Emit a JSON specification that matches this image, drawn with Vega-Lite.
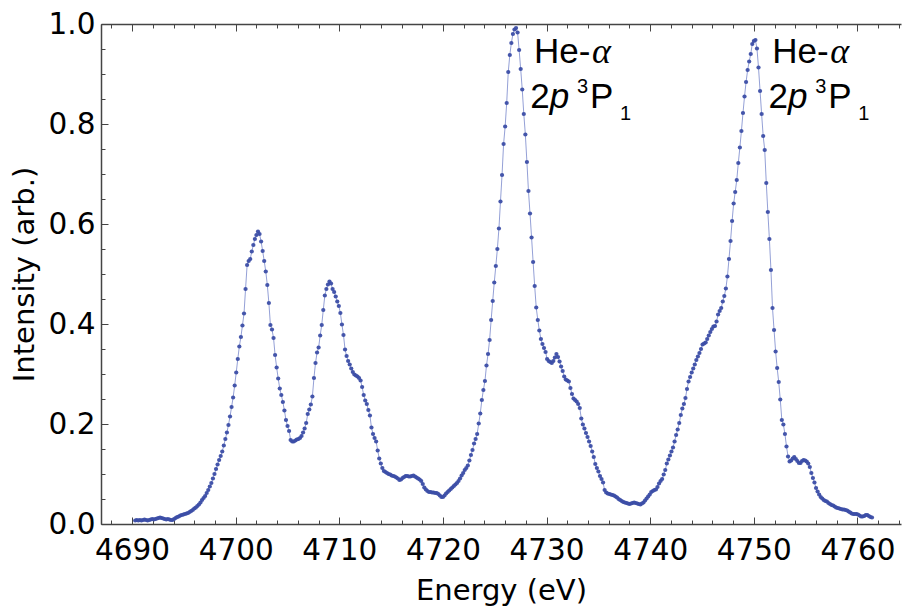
{
"$schema":"https://vega.github.io/schema/vega-lite/v6.json",
"width":800,"height":500,
"autosize":{"type":"none"},
"padding":{"left":101,"top":24,"right":1,"bottom":84},
"background":"white",
"config":{"view":{"stroke":null}},
"datasets":{
"ann":[{"x":4728.78,"y":0.9214},{"x":4751.78,"y":0.9214}],
"spec":[
{"e":4690.3,"i":0.007},{"e":4690.45,"i":0.008},{"e":4690.6,"i":0.007},{"e":4690.75,"i":0.008},{"e":4690.9,"i":0.007},{"e":4691.05,"i":0.008},{"e":4691.2,"i":0.009},{"e":4691.35,"i":0.008},{"e":4691.5,"i":0.007},{"e":4691.65,"i":0.008},{"e":4691.8,"i":0.009},{"e":4691.95,"i":0.01},{"e":4692.1,"i":0.009},{"e":4692.25,"i":0.01},{"e":4692.4,"i":0.011},{"e":4692.55,"i":0.012},{"e":4692.7,"i":0.013},{"e":4692.85,"i":0.012},{"e":4693.0,"i":0.011},{"e":4693.15,"i":0.01},{"e":4693.3,"i":0.009},{"e":4693.45,"i":0.01},{"e":4693.6,"i":0.009},{"e":4693.75,"i":0.008},{"e":4693.9,"i":0.008},{"e":4694.05,"i":0.01},{"e":4694.2,"i":0.012},{"e":4694.35,"i":0.014},{"e":4694.5,"i":0.015},{"e":4694.65,"i":0.017},{"e":4694.8,"i":0.018},{"e":4694.95,"i":0.019},{"e":4695.1,"i":0.02},{"e":4695.25,"i":0.021},{"e":4695.4,"i":0.022},{"e":4695.55,"i":0.024},{"e":4695.7,"i":0.026},{"e":4695.85,"i":0.028},{"e":4696.0,"i":0.031},{"e":4696.15,"i":0.033},{"e":4696.3,"i":0.036},{"e":4696.45,"i":0.039},{"e":4696.6,"i":0.043},{"e":4696.75,"i":0.048},{"e":4696.9,"i":0.052},{"e":4697.05,"i":0.056},{"e":4697.2,"i":0.062},{"e":4697.35,"i":0.068},{"e":4697.5,"i":0.075},{"e":4697.65,"i":0.082},{"e":4697.8,"i":0.091},{"e":4697.95,"i":0.1},{"e":4698.1,"i":0.11},{"e":4698.25,"i":0.119},{"e":4698.4,"i":0.128},{"e":4698.55,"i":0.136},{"e":4698.7,"i":0.145},{"e":4698.85,"i":0.157},{"e":4699.0,"i":0.17},{"e":4699.15,"i":0.183},{"e":4699.3,"i":0.198},{"e":4699.45,"i":0.215},{"e":4699.6,"i":0.234},{"e":4699.75,"i":0.253},{"e":4699.9,"i":0.277},{"e":4700.05,"i":0.303},{"e":4700.2,"i":0.33},{"e":4700.35,"i":0.355},{"e":4700.5,"i":0.374},{"e":4700.65,"i":0.397},{"e":4700.8,"i":0.421},{"e":4700.95,"i":0.47},{"e":4701.1,"i":0.518},{"e":4701.25,"i":0.526},{"e":4701.4,"i":0.53},{"e":4701.55,"i":0.545},{"e":4701.7,"i":0.558},{"e":4701.85,"i":0.57},{"e":4702.0,"i":0.578},{"e":4702.15,"i":0.585},{"e":4702.3,"i":0.58},{"e":4702.45,"i":0.565},{"e":4702.6,"i":0.546},{"e":4702.75,"i":0.526},{"e":4702.9,"i":0.505},{"e":4703.05,"i":0.478},{"e":4703.2,"i":0.442},{"e":4703.35,"i":0.398},{"e":4703.5,"i":0.389},{"e":4703.65,"i":0.372},{"e":4703.8,"i":0.338},{"e":4703.95,"i":0.313},{"e":4704.1,"i":0.291},{"e":4704.25,"i":0.271},{"e":4704.4,"i":0.258},{"e":4704.55,"i":0.244},{"e":4704.7,"i":0.227},{"e":4704.85,"i":0.208},{"e":4705.0,"i":0.196},{"e":4705.15,"i":0.186},{"e":4705.3,"i":0.168},{"e":4705.45,"i":0.165},{"e":4705.6,"i":0.165},{"e":4705.75,"i":0.167},{"e":4705.9,"i":0.169},{"e":4706.05,"i":0.17},{"e":4706.2,"i":0.172},{"e":4706.35,"i":0.176},{"e":4706.5,"i":0.183},{"e":4706.65,"i":0.191},{"e":4706.8,"i":0.202},{"e":4706.95,"i":0.22},{"e":4707.1,"i":0.229},{"e":4707.25,"i":0.239},{"e":4707.4,"i":0.255},{"e":4707.55,"i":0.292},{"e":4707.7,"i":0.322},{"e":4707.85,"i":0.343},{"e":4708.0,"i":0.353},{"e":4708.15,"i":0.377},{"e":4708.3,"i":0.398},{"e":4708.45,"i":0.428},{"e":4708.6,"i":0.457},{"e":4708.75,"i":0.47},{"e":4708.9,"i":0.479},{"e":4709.05,"i":0.485},{"e":4709.2,"i":0.481},{"e":4709.35,"i":0.47},{"e":4709.5,"i":0.464},{"e":4709.65,"i":0.455},{"e":4709.8,"i":0.445},{"e":4709.95,"i":0.436},{"e":4710.1,"i":0.422},{"e":4710.25,"i":0.399},{"e":4710.4,"i":0.378},{"e":4710.55,"i":0.349},{"e":4710.7,"i":0.336},{"e":4710.85,"i":0.326},{"e":4711.0,"i":0.319},{"e":4711.15,"i":0.311},{"e":4711.3,"i":0.304},{"e":4711.45,"i":0.299},{"e":4711.6,"i":0.297},{"e":4711.75,"i":0.295},{"e":4711.9,"i":0.292},{"e":4712.05,"i":0.287},{"e":4712.2,"i":0.274},{"e":4712.35,"i":0.258},{"e":4712.5,"i":0.247},{"e":4712.65,"i":0.24},{"e":4712.8,"i":0.228},{"e":4712.95,"i":0.217},{"e":4713.1,"i":0.193},{"e":4713.25,"i":0.18},{"e":4713.4,"i":0.172},{"e":4713.55,"i":0.165},{"e":4713.7,"i":0.147},{"e":4713.85,"i":0.131},{"e":4714.0,"i":0.121},{"e":4714.15,"i":0.112},{"e":4714.3,"i":0.106},{"e":4714.45,"i":0.104},{"e":4714.6,"i":0.102},{"e":4714.75,"i":0.1},{"e":4714.9,"i":0.099},{"e":4715.05,"i":0.097},{"e":4715.2,"i":0.096},{"e":4715.35,"i":0.095},{"e":4715.5,"i":0.093},{"e":4715.65,"i":0.091},{"e":4715.8,"i":0.088},{"e":4715.95,"i":0.089},{"e":4716.1,"i":0.092},{"e":4716.25,"i":0.094},{"e":4716.4,"i":0.096},{"e":4716.55,"i":0.096},{"e":4716.7,"i":0.095},{"e":4716.85,"i":0.095},{"e":4717.0,"i":0.096},{"e":4717.15,"i":0.097},{"e":4717.3,"i":0.095},{"e":4717.45,"i":0.093},{"e":4717.6,"i":0.091},{"e":4717.75,"i":0.089},{"e":4717.9,"i":0.086},{"e":4718.05,"i":0.08},{"e":4718.2,"i":0.073},{"e":4718.35,"i":0.069},{"e":4718.5,"i":0.066},{"e":4718.65,"i":0.064},{"e":4718.8,"i":0.064},{"e":4718.95,"i":0.063},{"e":4719.1,"i":0.063},{"e":4719.25,"i":0.062},{"e":4719.4,"i":0.062},{"e":4719.55,"i":0.06},{"e":4719.7,"i":0.057},{"e":4719.85,"i":0.054},{"e":4720.0,"i":0.054},{"e":4720.15,"i":0.057},{"e":4720.3,"i":0.061},{"e":4720.45,"i":0.064},{"e":4720.6,"i":0.067},{"e":4720.75,"i":0.07},{"e":4720.9,"i":0.073},{"e":4721.05,"i":0.076},{"e":4721.2,"i":0.079},{"e":4721.35,"i":0.082},{"e":4721.5,"i":0.086},{"e":4721.65,"i":0.091},{"e":4721.8,"i":0.097},{"e":4721.95,"i":0.102},{"e":4722.1,"i":0.108},{"e":4722.25,"i":0.112},{"e":4722.4,"i":0.117},{"e":4722.55,"i":0.127},{"e":4722.7,"i":0.138},{"e":4722.85,"i":0.148},{"e":4723.0,"i":0.161},{"e":4723.15,"i":0.17},{"e":4723.3,"i":0.18},{"e":4723.45,"i":0.201},{"e":4723.6,"i":0.221},{"e":4723.75,"i":0.248},{"e":4723.9,"i":0.268},{"e":4724.05,"i":0.286},{"e":4724.2,"i":0.317},{"e":4724.35,"i":0.34},{"e":4724.5,"i":0.368},{"e":4724.65,"i":0.408},{"e":4724.8,"i":0.446},{"e":4724.95,"i":0.483},{"e":4725.1,"i":0.516},{"e":4725.25,"i":0.55},{"e":4725.4,"i":0.591},{"e":4725.55,"i":0.645},{"e":4725.7,"i":0.698},{"e":4725.85,"i":0.76},{"e":4726.0,"i":0.795},{"e":4726.15,"i":0.842},{"e":4726.3,"i":0.904},{"e":4726.45,"i":0.938},{"e":4726.6,"i":0.962},{"e":4726.75,"i":0.98},{"e":4726.9,"i":0.989},{"e":4727.05,"i":0.992},{"e":4727.2,"i":0.983},{"e":4727.35,"i":0.948},{"e":4727.5,"i":0.91},{"e":4727.65,"i":0.869},{"e":4727.8,"i":0.82},{"e":4727.95,"i":0.779},{"e":4728.1,"i":0.724},{"e":4728.25,"i":0.666},{"e":4728.4,"i":0.621},{"e":4728.55,"i":0.573},{"e":4728.7,"i":0.524},{"e":4728.85,"i":0.476},{"e":4729.0,"i":0.433},{"e":4729.15,"i":0.408},{"e":4729.3,"i":0.387},{"e":4729.45,"i":0.37},{"e":4729.6,"i":0.36},{"e":4729.75,"i":0.352},{"e":4729.9,"i":0.344},{"e":4730.05,"i":0.33},{"e":4730.2,"i":0.326},{"e":4730.35,"i":0.324},{"e":4730.5,"i":0.322},{"e":4730.65,"i":0.326},{"e":4730.8,"i":0.333},{"e":4730.95,"i":0.34},{"e":4731.1,"i":0.334},{"e":4731.25,"i":0.325},{"e":4731.4,"i":0.315},{"e":4731.55,"i":0.306},{"e":4731.7,"i":0.295},{"e":4731.85,"i":0.289},{"e":4732.0,"i":0.287},{"e":4732.15,"i":0.285},{"e":4732.3,"i":0.272},{"e":4732.45,"i":0.26},{"e":4732.6,"i":0.251},{"e":4732.75,"i":0.248},{"e":4732.9,"i":0.245},{"e":4733.05,"i":0.24},{"e":4733.2,"i":0.232},{"e":4733.35,"i":0.211},{"e":4733.5,"i":0.199},{"e":4733.65,"i":0.191},{"e":4733.8,"i":0.182},{"e":4733.95,"i":0.174},{"e":4734.1,"i":0.165},{"e":4734.25,"i":0.156},{"e":4734.4,"i":0.145},{"e":4734.55,"i":0.134},{"e":4734.7,"i":0.12},{"e":4734.85,"i":0.112},{"e":4735.0,"i":0.105},{"e":4735.15,"i":0.096},{"e":4735.3,"i":0.09},{"e":4735.45,"i":0.083},{"e":4735.6,"i":0.068},{"e":4735.75,"i":0.063},{"e":4735.9,"i":0.061},{"e":4736.05,"i":0.06},{"e":4736.2,"i":0.059},{"e":4736.35,"i":0.058},{"e":4736.5,"i":0.057},{"e":4736.65,"i":0.055},{"e":4736.8,"i":0.053},{"e":4736.95,"i":0.05},{"e":4737.1,"i":0.048},{"e":4737.25,"i":0.046},{"e":4737.4,"i":0.044},{"e":4737.55,"i":0.043},{"e":4737.7,"i":0.042},{"e":4737.85,"i":0.041},{"e":4738.0,"i":0.04},{"e":4738.15,"i":0.041},{"e":4738.3,"i":0.042},{"e":4738.45,"i":0.043},{"e":4738.6,"i":0.042},{"e":4738.75,"i":0.041},{"e":4738.9,"i":0.04},{"e":4739.05,"i":0.039},{"e":4739.2,"i":0.041},{"e":4739.35,"i":0.043},{"e":4739.5,"i":0.047},{"e":4739.65,"i":0.051},{"e":4739.8,"i":0.055},{"e":4739.95,"i":0.059},{"e":4740.1,"i":0.064},{"e":4740.25,"i":0.066},{"e":4740.4,"i":0.068},{"e":4740.55,"i":0.069},{"e":4740.7,"i":0.074},{"e":4740.85,"i":0.081},{"e":4741.0,"i":0.086},{"e":4741.15,"i":0.09},{"e":4741.3,"i":0.099},{"e":4741.45,"i":0.108},{"e":4741.6,"i":0.121},{"e":4741.75,"i":0.129},{"e":4741.9,"i":0.137},{"e":4742.05,"i":0.145},{"e":4742.2,"i":0.153},{"e":4742.35,"i":0.165},{"e":4742.5,"i":0.178},{"e":4742.65,"i":0.189},{"e":4742.8,"i":0.202},{"e":4742.95,"i":0.218},{"e":4743.1,"i":0.231},{"e":4743.25,"i":0.24},{"e":4743.4,"i":0.252},{"e":4743.55,"i":0.27},{"e":4743.7,"i":0.285},{"e":4743.85,"i":0.294},{"e":4744.0,"i":0.303},{"e":4744.15,"i":0.311},{"e":4744.3,"i":0.319},{"e":4744.45,"i":0.328},{"e":4744.6,"i":0.335},{"e":4744.75,"i":0.342},{"e":4744.9,"i":0.35},{"e":4745.05,"i":0.359},{"e":4745.2,"i":0.361},{"e":4745.35,"i":0.363},{"e":4745.5,"i":0.37},{"e":4745.65,"i":0.377},{"e":4745.8,"i":0.384},{"e":4745.95,"i":0.39},{"e":4746.1,"i":0.395},{"e":4746.25,"i":0.396},{"e":4746.4,"i":0.405},{"e":4746.55,"i":0.419},{"e":4746.7,"i":0.426},{"e":4746.85,"i":0.432},{"e":4747.0,"i":0.445},{"e":4747.15,"i":0.456},{"e":4747.3,"i":0.471},{"e":4747.45,"i":0.495},{"e":4747.6,"i":0.53},{"e":4747.75,"i":0.566},{"e":4747.9,"i":0.606},{"e":4748.05,"i":0.641},{"e":4748.2,"i":0.664},{"e":4748.35,"i":0.688},{"e":4748.5,"i":0.722},{"e":4748.65,"i":0.753},{"e":4748.8,"i":0.786},{"e":4748.95,"i":0.822},{"e":4749.1,"i":0.855},{"e":4749.25,"i":0.884},{"e":4749.4,"i":0.908},{"e":4749.55,"i":0.925},{"e":4749.7,"i":0.94},{"e":4749.85,"i":0.96},{"e":4750.0,"i":0.966},{"e":4750.15,"i":0.968},{"e":4750.3,"i":0.951},{"e":4750.45,"i":0.913},{"e":4750.6,"i":0.866},{"e":4750.75,"i":0.82},{"e":4750.9,"i":0.776},{"e":4751.05,"i":0.748},{"e":4751.2,"i":0.682},{"e":4751.35,"i":0.624},{"e":4751.5,"i":0.57},{"e":4751.65,"i":0.508},{"e":4751.8,"i":0.432},{"e":4751.95,"i":0.388},{"e":4752.1,"i":0.345},{"e":4752.25,"i":0.312},{"e":4752.4,"i":0.284},{"e":4752.55,"i":0.249},{"e":4752.7,"i":0.208},{"e":4752.85,"i":0.199},{"e":4753.0,"i":0.18},{"e":4753.15,"i":0.155},{"e":4753.3,"i":0.135},{"e":4753.45,"i":0.125},{"e":4753.6,"i":0.127},{"e":4753.75,"i":0.131},{"e":4753.9,"i":0.134},{"e":4754.05,"i":0.13},{"e":4754.2,"i":0.126},{"e":4754.35,"i":0.122},{"e":4754.5,"i":0.122},{"e":4754.65,"i":0.126},{"e":4754.8,"i":0.128},{"e":4754.95,"i":0.127},{"e":4755.1,"i":0.125},{"e":4755.25,"i":0.121},{"e":4755.4,"i":0.114},{"e":4755.55,"i":0.102},{"e":4755.7,"i":0.092},{"e":4755.85,"i":0.083},{"e":4756.0,"i":0.072},{"e":4756.15,"i":0.065},{"e":4756.3,"i":0.059},{"e":4756.45,"i":0.054},{"e":4756.6,"i":0.051},{"e":4756.75,"i":0.048},{"e":4756.9,"i":0.046},{"e":4757.05,"i":0.045},{"e":4757.2,"i":0.042},{"e":4757.35,"i":0.04},{"e":4757.5,"i":0.038},{"e":4757.65,"i":0.037},{"e":4757.8,"i":0.035},{"e":4757.95,"i":0.033},{"e":4758.1,"i":0.032},{"e":4758.25,"i":0.031},{"e":4758.4,"i":0.03},{"e":4758.55,"i":0.029},{"e":4758.7,"i":0.029},{"e":4758.85,"i":0.028},{"e":4759.0,"i":0.027},{"e":4759.15,"i":0.025},{"e":4759.3,"i":0.023},{"e":4759.45,"i":0.021},{"e":4759.6,"i":0.02},{"e":4759.75,"i":0.02},{"e":4759.9,"i":0.02},{"e":4760.05,"i":0.019},{"e":4760.2,"i":0.017},{"e":4760.35,"i":0.015},{"e":4760.5,"i":0.015},{"e":4760.65,"i":0.016},{"e":4760.8,"i":0.018},{"e":4760.95,"i":0.018},{"e":4761.1,"i":0.016},{"e":4761.25,"i":0.014},{"e":4761.4,"i":0.013}
]},
"resolve":{"axis":{"x":"independent","y":"independent"}},
"layer":[
{"data":{"name":"spec"},
 "mark":{"type":"line","color":"#7080c8","strokeWidth":1,"opacity":0.75,"point":{"filled":true,"size":18,"color":"#3c4ea6","opacity":0.95}},
 "encoding":{
  "x":{"field":"e","type":"quantitative","scale":{"domain":[4687,4764.2],"nice":false,"zero":false},
   "axis":{"orient":"bottom","values":[4690,4700,4710,4720,4730,4740,4750,4760],"format":"d","grid":false,"tickSize":-7,"tickWidth":1,"tickColor":"#444","domainColor":"#444","domainWidth":1.5,"labelFont":"DejaVu Sans","labelFontSize":29.5,"labelColor":"#000","labelPadding":19,"labelFlush":false,"labelOverlap":false,"title":"Energy (eV)","titleFont":"DejaVu Sans","titleFontSize":29,"titleFontWeight":"normal","titleColor":"#000","titlePadding":12}},
  "y":{"field":"i","type":"quantitative","scale":{"domain":[0,1],"nice":false,"zero":false},
   "axis":{"orient":"left","values":[0,0.2,0.4,0.6,0.8,1.0],"format":".1f","grid":false,"tickSize":-7,"tickWidth":1,"tickColor":"#444","domainColor":"#444","domainWidth":1.5,"labelFont":"DejaVu Sans","labelFontSize":29.5,"labelColor":"#000","labelPadding":13,"labelFlush":false,"labelOverlap":false,"title":"Intensity (arb.)","titleFont":"DejaVu Sans","titleFontSize":29,"titleFontWeight":"normal","titleColor":"#000","titlePadding":9}}
 }},
{"data":{"name":"ann"},
 "mark":{"type":"text","text":"He-","align":"left","baseline":"alphabetic","font":"Liberation Sans","fontSize":35,"color":"#000"},
 "encoding":{
  "x":{"field":"x","type":"quantitative","scale":{"domain":[4687,4764.2],"nice":false,"zero":false},
   "axis":{"orient":"bottom","values":[4688,4690,4692,4694,4696,4698,4700,4702,4704,4706,4708,4710,4712,4714,4716,4718,4720,4722,4724,4726,4728,4730,4732,4734,4736,4738,4740,4742,4744,4746,4748,4750,4752,4754,4756,4758,4760,4762,4764],"grid":false,"tickSize":-4,"tickWidth":1,"tickColor":"#444","domain":false,"labels":false,"title":null}},
  "y":{"field":"y","type":"quantitative","scale":{"domain":[0,1],"nice":false,"zero":false},
   "axis":{"orient":"left","values":[0,0.05,0.1,0.15,0.2,0.25,0.3,0.35,0.4,0.45,0.5,0.55,0.6,0.65,0.7,0.75,0.8,0.85,0.9,0.95,1.0],"grid":false,"tickSize":-4,"tickWidth":1,"tickColor":"#444","domain":false,"labels":false,"title":null}}
 }},
{"data":{"name":"ann"},
 "mark":{"type":"text","text":"α","align":"left","baseline":"alphabetic","dx":58,"font":"Liberation Serif","fontStyle":"italic","fontSize":36,"color":"#000"},
 "encoding":{
  "x":{"field":"x","type":"quantitative","scale":{"domain":[4687,4764.2],"nice":false,"zero":false},
   "axis":{"orient":"top","values":[4690,4700,4710,4720,4730,4740,4750,4760],"grid":false,"tickSize":-7,"tickWidth":1,"tickColor":"#444","domainColor":"#444","domainWidth":1.5,"labels":false,"title":null}},
  "y":{"field":"y","type":"quantitative","scale":{"domain":[0,1],"nice":false,"zero":false},"axis":null}
 }},
{"data":{"name":"ann"},
 "mark":{"type":"text","text":"2","align":"left","baseline":"alphabetic","dx":-3.7,"dy":45,"font":"Liberation Sans","fontSize":35,"color":"#000"},
 "encoding":{
  "x":{"field":"x","type":"quantitative","scale":{"domain":[4687,4764.2],"nice":false,"zero":false},
   "axis":{"orient":"top","values":[4688,4690,4692,4694,4696,4698,4700,4702,4704,4706,4708,4710,4712,4714,4716,4718,4720,4722,4724,4726,4728,4730,4732,4734,4736,4738,4740,4742,4744,4746,4748,4750,4752,4754,4756,4758,4760,4762,4764],"grid":false,"tickSize":-4,"tickWidth":1,"tickColor":"#444","domain":false,"labels":false,"title":null}},
  "y":{"field":"y","type":"quantitative","scale":{"domain":[0,1],"nice":false,"zero":false},"axis":null}
 }},
{"data":{"name":"ann"},
 "mark":{"type":"text","text":"p","align":"left","baseline":"alphabetic","dx":15.8,"dy":45,"font":"Liberation Sans","fontStyle":"italic","fontSize":35,"color":"#000"},
 "encoding":{
  "x":{"field":"x","type":"quantitative","scale":{"domain":[4687,4764.2],"nice":false,"zero":false},"axis":null},
  "y":{"field":"y","type":"quantitative","scale":{"domain":[0,1],"nice":false,"zero":false},"axis":null}
 }},
{"data":{"name":"ann"},
 "mark":{"type":"text","text":"3","align":"left","baseline":"alphabetic","dx":43,"dy":30,"font":"Liberation Sans","fontSize":20,"color":"#000"},
 "encoding":{
  "x":{"field":"x","type":"quantitative","scale":{"domain":[4687,4764.2],"nice":false,"zero":false},"axis":null},
  "y":{"field":"y","type":"quantitative","scale":{"domain":[0,1],"nice":false,"zero":false},"axis":null}
 }},
{"data":{"name":"ann"},
 "mark":{"type":"text","text":"P","align":"left","baseline":"alphabetic","dx":56,"dy":45,"font":"Liberation Sans","fontSize":35,"color":"#000"},
 "encoding":{
  "x":{"field":"x","type":"quantitative","scale":{"domain":[4687,4764.2],"nice":false,"zero":false},"axis":null},
  "y":{"field":"y","type":"quantitative","scale":{"domain":[0,1],"nice":false,"zero":false},"axis":null}
 }},
{"data":{"name":"ann"},
 "mark":{"type":"text","text":"1","align":"left","baseline":"alphabetic","dx":86,"dy":56.7,"font":"Liberation Sans","fontSize":20,"color":"#000"},
 "encoding":{
  "x":{"field":"x","type":"quantitative","scale":{"domain":[4687,4764.2],"nice":false,"zero":false},"axis":null},
  "y":{"field":"y","type":"quantitative","scale":{"domain":[0,1],"nice":false,"zero":false},"axis":null}
 }}
]
}
